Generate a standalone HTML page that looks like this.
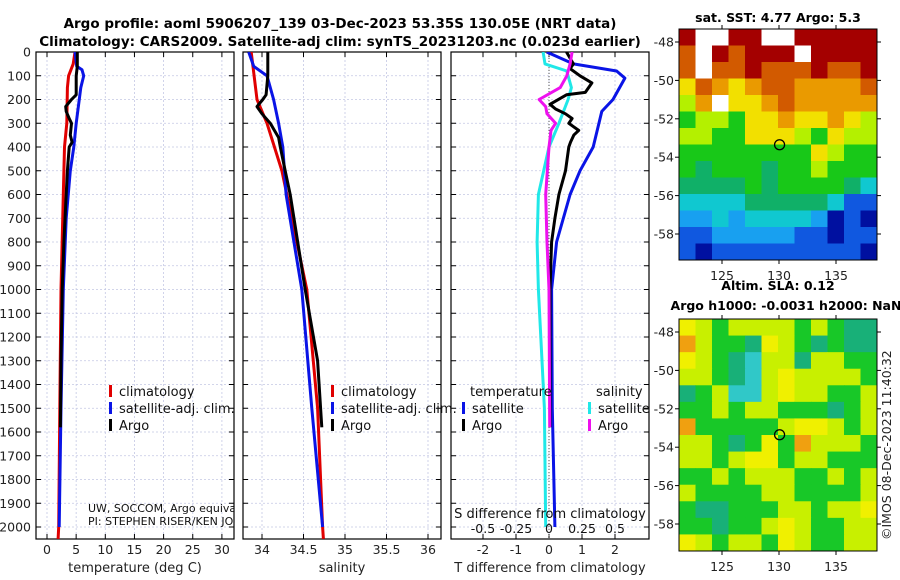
<!DOCTYPE html>
<html><head><meta charset="utf-8"><style>
html,body{margin:0;padding:0;background:#fff;}
svg{display:block;font-family:"DejaVu Sans","Liberation Sans",sans-serif;}
</style></head><body>
<svg id="fig" width="900" height="580" viewBox="0 0 900 580">
<text x="340" y="28" text-anchor="middle" font-weight="bold" font-size="13.5">Argo profile: aoml 5906207_139 03-Dec-2023 53.35S 130.05E (NRT data)</text>
<text x="340" y="46" text-anchor="middle" font-weight="bold" font-size="13.5">Climatology: CARS2009. Satellite-adj clim: synTS_20231203.nc (0.023d earlier)</text>
<g id="g"></g>
</svg>
<script>
// ---- data ----
const yTicks=[0,100,200,300,400,500,600,700,800,900,1000,1100,1200,1300,1400,1500,1600,1700,1800,1900,2000];
const tTicks=[0,5,10,15,20,25,30];
const sTicks=[34,34.5,35,35.5,36];
const dTTicks=[-2,-1,0,1,2];
const dSTicks=[-0.5,-0.25,0,0.25,0.5];
const dSTickLabels=["-0.5","-0.25","0","0.25","0.5"];
const tClimDepth=[0,50,100,150,300,400,600,1000,1500,2000,2050];
const tClimVal=[4.8,4.5,3.7,3.5,3.4,3.0,2.8,2.4,2.2,2.0,1.9];
const tSatDepth=[0,60,75,100,150,300,400,500,700,1000,1500,2000];
const tSatVal=[4.8,5.1,6.0,6.3,5.8,5.0,4.6,4.0,3.3,2.8,2.4,2.1];
const tArgoDepth=[0,60,100,180,200,230,250,280,300,350,380,400,500,600,800,1000,1300,1580];
const tArgoVal=[5.2,5.2,5.0,5.0,4.2,3.2,3.3,3.8,4.2,4.0,4.3,3.8,3.5,3.3,2.9,2.6,2.4,2.3];
const sClimDepth=[0,200,300,500,1000,1500,2000,2050];
const sClimVal=[33.87,33.94,34.06,34.24,34.54,34.67,34.73,34.74];
const sSatDepth=[0,60,100,200,300,400,600,1000,1500,2000];
const sSatVal=[33.84,33.9,34.06,34.14,34.2,34.25,34.29,34.48,34.6,34.73];
const sArgoDepth=[0,100,180,200,230,260,300,330,360,400,500,600,800,1000,1300,1580];
const sArgoVal=[34.07,34.07,34.05,34.01,33.94,34.0,34.1,34.15,34.2,34.22,34.28,34.34,34.43,34.52,34.67,34.72];
const dTSatDepth=[0,50,80,110,200,250,400,500,600,800,1000,1500,2000];
const dTSatVal=[-0.07,0.74,2.05,2.3,1.94,1.6,1.34,0.94,0.64,0.23,0.08,0.1,0.18];
const dTArgoDepth=[0,50,70,100,130,170,180,220,240,260,280,300,330,350,380,400,500,600,700,800,1000,1580];
const dTArgoVal=[0.53,0.74,0.64,0.94,1.3,1.1,0.53,0.03,0.2,0.5,0.7,0.6,0.9,0.75,0.65,0.6,0.5,0.3,0.18,0.08,0.03,0.03];
const dSSatDepth=[0,50,80,100,150,200,300,400,600,800,1000,1500,2000];
const dSSatVal=[-0.045,-0.03,0.135,0.145,0.17,0.145,0.075,0.0,-0.08,-0.09,-0.08,-0.035,-0.025];
const dSArgoDepth=[0,50,100,150,200,230,260,300,330,400,600,800,1000,1580];
const dSArgoVal=[0.175,0.16,0.135,0.085,-0.075,-0.025,-0.015,0.05,0.015,0.0,-0.025,-0.015,0.0,0.005];
const latTicks=[-48,-50,-52,-54,-56,-58];
const lonTicks=[125,130,135];
const sstRows=["9..99..99999","8.98999.9999","8.8898889889","687678877778","57.667877777","455466766765","554466654655","444444446544","434443445444","333343444432","222233333200","112122221z0z","001111100z00","0z000000000z"];
const slaRows=["542444424211","642215421211","542104414422","442104544442","124004544224","224244222124","622222455424","442125264442","442455244222","224244422424","422224422224","211222442445","221224542244","542442542244"];
const argoLon=130.05, argoLat=-53.35;
// ---- helpers ----
const NS="http://www.w3.org/2000/svg";
const G=document.getElementById('g');
function mk(tag,attrs,parent){const e=document.createElementNS(NS,tag);for(const k in attrs)e.setAttribute(k,attrs[k]);(parent||G).appendChild(e);return e;}
const Y0=52,PY=0.2375,BOT=539;
const yS=d=>Y0+d*PY;
const panels=[{x0:36,x1:234},{x0:243,x1:441},{x0:451,x1:649}];
const xT=v=>47+v*5.83, xS=v=>262+(v-34)*83, xDT=v=>549+v*33, xDS=v=>549+v*132;
function frame(p,name,ticks,xf,labels,title){
  const gp=mk('g',{});
  
  
  yTicks.forEach(t=>{mk('line',{x1:p.x0,x2:p.x1,y1:yS(t),y2:yS(t),stroke:'#c4c8e4','stroke-width':0.8,'stroke-dasharray':'2,2'},gp);
    mk('line',{x1:p.x0,x2:p.x0+5,y1:yS(t),y2:yS(t),stroke:'#000'},gp);mk('line',{x1:p.x1-5,x2:p.x1,y1:yS(t),y2:yS(t),stroke:'#000'},gp);});
  ticks.forEach((t,i)=>{const x=xf(t);mk('line',{x1:x,x2:x,y1:Y0,y2:BOT,stroke:'#c4c8e4','stroke-width':0.8,'stroke-dasharray':'2,2'},gp);
    mk('line',{x1:x,x2:x,y1:BOT-5,y2:BOT,stroke:'#000'},gp);mk('line',{x1:x,x2:x,y1:Y0,y2:Y0+5,stroke:'#000'},gp);
    const tx=mk('text',{x:x,y:BOT+15,'text-anchor':'middle','font-size':12.5,fill:'#222'},gp);tx.textContent=labels?labels[i]:t;});
  mk('rect',{x:p.x0,y:Y0,width:p.x1-p.x0,height:BOT-Y0,fill:'none',stroke:'#000','stroke-width':1.2},gp);
  const at=mk('text',{x:(p.x0+p.x1)/2,y:572,'text-anchor':'middle','font-size':13,fill:'#222'},gp);at.textContent=title;
  
  
}
function line(depths,vals,xf,color,name,clip){
  const pts=depths.map((d,i)=>xf(vals[i]).toFixed(1)+','+yS(d).toFixed(1)).join(' ');
  const e=mk('polyline',{points:pts,fill:'none',stroke:color,'stroke-width':3,'stroke-linejoin':'round','clip-path':clip});
  
  
}
const defs=mk('defs',{});
panels.forEach((p,i)=>{const c=mk('clipPath',{id:'c'+i},defs);mk('rect',{x:p.x0,y:Y0,width:p.x1-p.x0,height:BOT-Y0},c);});
yTicks.forEach(t=>{const tx=mk('text',{x:31,y:yS(t)+4.5,'text-anchor':'end','font-size':12.5,fill:'#222'});tx.textContent=t;
  
  });
frame(panels[0],'temperature-panel',tTicks,xT,null,'temperature (deg C)');
frame(panels[1],'salinity-panel',sTicks,xS,null,'salinity');
frame(panels[2],'difference-panel',dTTicks,xDT,null,'T difference from climatology');
mk('line',{x1:549,x2:549,y1:Y0,y2:BOT,stroke:'#555','stroke-dasharray':'1,2'});
line(tClimDepth,tClimVal,xT,'#e00000','temp-climatology-line','url(#c0)');
line(tSatDepth,tSatVal,xT,'#0a14e6','temp-satellite-line','url(#c0)');
line(tArgoDepth,tArgoVal,xT,'#000','temp-argo-line','url(#c0)');
line(sClimDepth,sClimVal,xS,'#e00000','sal-climatology-line','url(#c1)');
line(sSatDepth,sSatVal,xS,'#0a14e6','sal-satellite-line','url(#c1)');
line(sArgoDepth,sArgoVal,xS,'#000','sal-argo-line','url(#c1)');
line(dSSatDepth,dSSatVal,xDS,'#20e8e8','dsal-satellite-line','url(#c2)');
line(dTSatDepth,dTSatVal,xDT,'#0a14e6','dtemp-satellite-line','url(#c2)');
line(dTArgoDepth,dTArgoVal,xDT,'#000','dtemp-argo-line','url(#c2)');
line(dSArgoDepth,dSArgoVal,xDS,'#ee10ee','dsal-argo-line','url(#c2)');
dSTicks.forEach((t,i)=>{const tx=mk('text',{x:xDS(t),y:533,'text-anchor':'middle','font-size':12.5,fill:'#111'});tx.textContent=dSTickLabels[i];
  
  });
const st=mk('text',{x:550,y:518,'text-anchor':'middle','font-size':13,fill:'#111'});st.textContent='S difference from climatology';


function leg(x,y,color,label,name){mk('rect',{x:x,y:y-11,width:3,height:12,fill:color});const t=mk('text',{x:x+10,y:y,'font-size':13,fill:'#111'});t.textContent=label;
  
  }
leg(109,396,'#e00000','climatology','legend-climatology');
leg(109,413,'#0a14e6','satellite-adj. clim.','legend-satellite');
leg(109,430,'#000','Argo','legend-argo');
leg(331,396,'#e00000','climatology','legend-climatology-2');
leg(331,413,'#0a14e6','satellite-adj. clim.','legend-satellite-2');
leg(331,430,'#000','Argo','legend-argo-2');
let hd=mk('text',{x:470,y:396,'font-size':13,fill:'#111'});hd.textContent='temperature';
hd=mk('text',{x:596,y:396,'font-size':13,fill:'#111'});hd.textContent='salinity';
leg(462,413,'#0a14e6','satellite','legend-dt-satellite');
leg(462,430,'#000','Argo','legend-dt-argo');
leg(588,413,'#20e8e8','satellite','legend-ds-satellite');
leg(588,430,'#ee10ee','Argo','legend-ds-argo');
const cp=mk('clipPath',{id:'cn'},defs);mk('rect',{x:36,y:490,width:198,height:50},cp);
let nt=mk('text',{x:88,y:512,'font-size':11,fill:'#111','clip-path':'url(#cn)'});nt.textContent='UW, SOCCOM, Argo equivalent';
nt=mk('text',{x:88,y:525,'font-size':11,fill:'#111','clip-path':'url(#cn)'});nt.textContent='PI: STEPHEN RISER/KEN JOHNSON';
// ---- maps ----
const sstCol={'9':'#a40000','8':'#d25a00','7':'#ea9a00','6':'#f2e000','5':'#b4f000','4':'#18c818','3':'#10b068','2':'#10c8d0','1':'#18a0f0','0':'#1058e0','z':'#0010a0','.':'#ffffff'};
const slaCol={'0':'#30c8c8','1':'#18b078','2':'#18c828','3':'#60d820','4':'#c8f000','5':'#f0f000','6':'#f0a010'};
const MX0=679,MX1=877;
const lonX=l=>779+(l-130)*11.4;
function drawMap(rows,cols,y0,y1,name,title1,title2){
  const gm=mk('g',{});
  
  
  const nr=rows.length,nc=rows[0].length,cw=(MX1-MX0)/nc,ch=(y1-y0)/nr;
  rows.forEach((r,i)=>{for(let j=0;j<nc;j++){mk('rect',{x:MX0+j*cw,y:y0+i*ch,width:cw+0.5,height:ch+0.5,fill:cols[r[j]]},gm);}});
  const latY=l=>y0+13+(-48-l)*19.2;
  mk('rect',{x:MX0,y:y0,width:MX1-MX0,height:y1-y0,fill:'none',stroke:'#000'},gm);
  latTicks.forEach(l=>{const y=latY(l);mk('line',{x1:MX0-4,x2:MX0,y1:y,y2:y,stroke:'#000'},gm);mk('line',{x1:MX1,x2:MX1+4,y1:y,y2:y,stroke:'#000'},gm);
    const t=mk('text',{x:674,y:y+4.5,'text-anchor':'end','font-size':12.5,fill:'#222'},gm);t.textContent=l;});
  lonTicks.forEach(l=>{const x=lonX(l);mk('line',{x1:x,x2:x,y1:y1,y2:y1+4,stroke:'#000'},gm);mk('line',{x1:x,x2:x,y1:y0-4,y2:y0,stroke:'#000'},gm);
    const t=mk('text',{x:x,y:y1+20,'text-anchor':'middle','font-size':12.5,fill:'#222'},gm);t.textContent=l;});
  const c=mk('circle',{cx:lonX(argoLon),cy:latY(argoLat),r:5,fill:'none',stroke:'#000','stroke-width':1.3},gm);
  
  
  let t=mk('text',{x:778,y:title2?y0-29:y0-7,'text-anchor':'middle','font-weight':'bold','font-size':12.5},gm);t.textContent=title1;
  if(title2){t=mk('text',{x:786,y:y0-9,'text-anchor':'middle','font-weight':'bold','font-size':12.5},gm);t.textContent=title2;}
}
drawMap(sstRows,sstCol,29,260,'sst-map','sat. SST: 4.77 Argo: 5.3');
drawMap(slaRows,slaCol,319,551,'sla-map','Altim. SLA: 0.12','Argo h1000: -0.0031 h2000: NaN');
const cr=mk('text',{x:0,y:0,'font-size':12.5,fill:'#222',transform:'translate(891,540) rotate(-90)'});cr.textContent='©IMOS 08-Dec-2023 11:40:32';


</script>
</body></html>
